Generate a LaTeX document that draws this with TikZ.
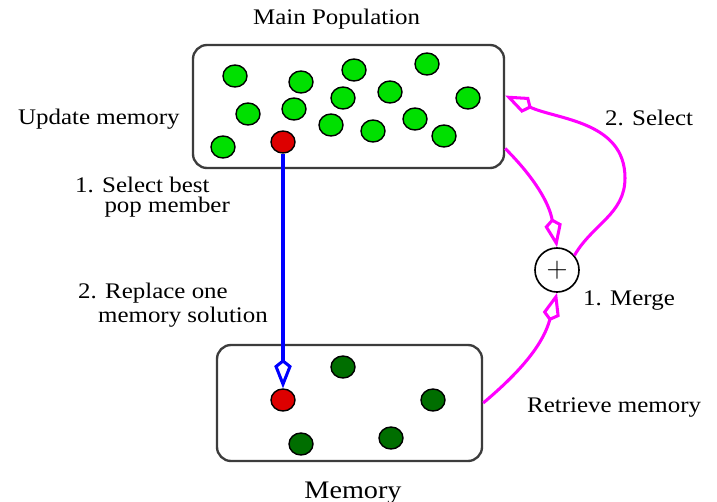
\documentclass[tikz,border=0pt]{standalone}
\usepackage{fontspec}
\setmainfont{Liberation Serif}[FakeStretch=1.12]
\usetikzlibrary{arrows.meta, positioning, shapes.geometric}
\definecolor{box-line}{HTML}{3C3C3C}
\definecolor{pop-green}{HTML}{00E000}
\definecolor{mem-green}{HTML}{006E00}
\definecolor{best-red}{HTML}{DD0000}
\definecolor{flow-pink}{HTML}{FF00FF}
\definecolor{flow-blue}{HTML}{0000FF}
\tikzset{
  pbox/.style={draw=box-line, fill=white, line width=2pt, rounded corners=12pt},
  ball/.style={ellipse, draw=black, line width=1.2pt, inner sep=0pt,
    minimum width=0.72cm, minimum height=0.66cm},
  popball/.style={ball, fill=pop-green},
  memball/.style={ball, fill=mem-green},
  bestball/.style={ball, fill=best-red},
  lbl/.style={font=\fontsize{19}{17}\selectfont, align=left, inner sep=0pt},
  flow/.style={line width=2.6pt, -{Kite[open, length=25pt, width=15pt, inset=6pt]}}
}

\begin{document}
\begin{tikzpicture}[x=0.03cm, y=-0.03cm]
  \fill[white] (0,0) rectangle (717,502);
  \useasboundingbox (0,0) rectangle (717,502);

  % ---- Main population ----------------------------------------------------
  \node[pbox, minimum width=9.33cm, minimum height=3.69cm] (pop) at (348.5,106.5) {};
  \foreach \x/\y [count=\i] in {235/76, 301/82, 354/70, 427/64, 248/114,
      294/109, 343/98, 390/92, 468/98, 223/147, 331/125, 373/131, 415/119, 444/136} {
    \node[popball] (p\i) at (\x,\y) {};
  }
  \node[bestball] (best) at (283,142) {};
  \node[lbl, anchor=base west] (poplbl) at (253,24) {Main Population};
  \node[lbl, anchor=base west] (updlbl) at (18,124) {Update memory};

  % ---- Memory -------------------------------------------------------------
  \node[pbox, minimum width=7.95cm, minimum height=3.48cm] (mem) at (349.5,403) {};
  \foreach \x/\y [count=\i] in {343/367, 433/400, 301/444, 391/438} {
    \node[memball] (m\i) at (\x,\y) {};
  }
  \node[bestball] (mbest) at (283,400) {};
  \node[lbl, font=\fontsize{21.5}{20}\selectfont, anchor=base] (memlbl) at (353,498) {Memory};

  % ---- Merge --------------------------------------------------------------
  \node[circle, draw=black, line width=1.4pt, fill=white, minimum size=1.32cm,
    inner sep=0pt, font=\fontsize{36}{36}\selectfont] (merge) at (557,270) {$+$};
  \coordinate (selturn) at (625,178);

  % ---- Connectors ---------------------------------------------------------
  \draw[flow, flow-blue] (best) -- (mbest);
  \draw[flow, flow-pink] (pop.-15) to[out=-45, in=100] (merge.north);
  \draw[flow, flow-pink] (merge.40) to[out=60, in=-90] (selturn)
    to[out=90, in=-25] (pop.4);
  \draw[flow, flow-pink] (mem.east) to[out=40, in=-105] (merge.south);

  % ---- Step labels --------------------------------------------------------
  \node[lbl, anchor=north west] (sellbl) at (75,177) {1. Select best\\\hspace{25pt}pop member};
  \node[lbl, anchor=north west] (replbl) at (78,283) {2. Replace one\\[2pt]\hspace{17pt}memory solution};
  \node[lbl, anchor=base west] (sel2lbl) at (605,125) {2. Select};
  \node[lbl, anchor=base west] (mrglbl) at (583,305) {1. Merge};
  \node[lbl, anchor=base west] (retlbl) at (527,412) {Retrieve memory};
\end{tikzpicture}
\end{document}
